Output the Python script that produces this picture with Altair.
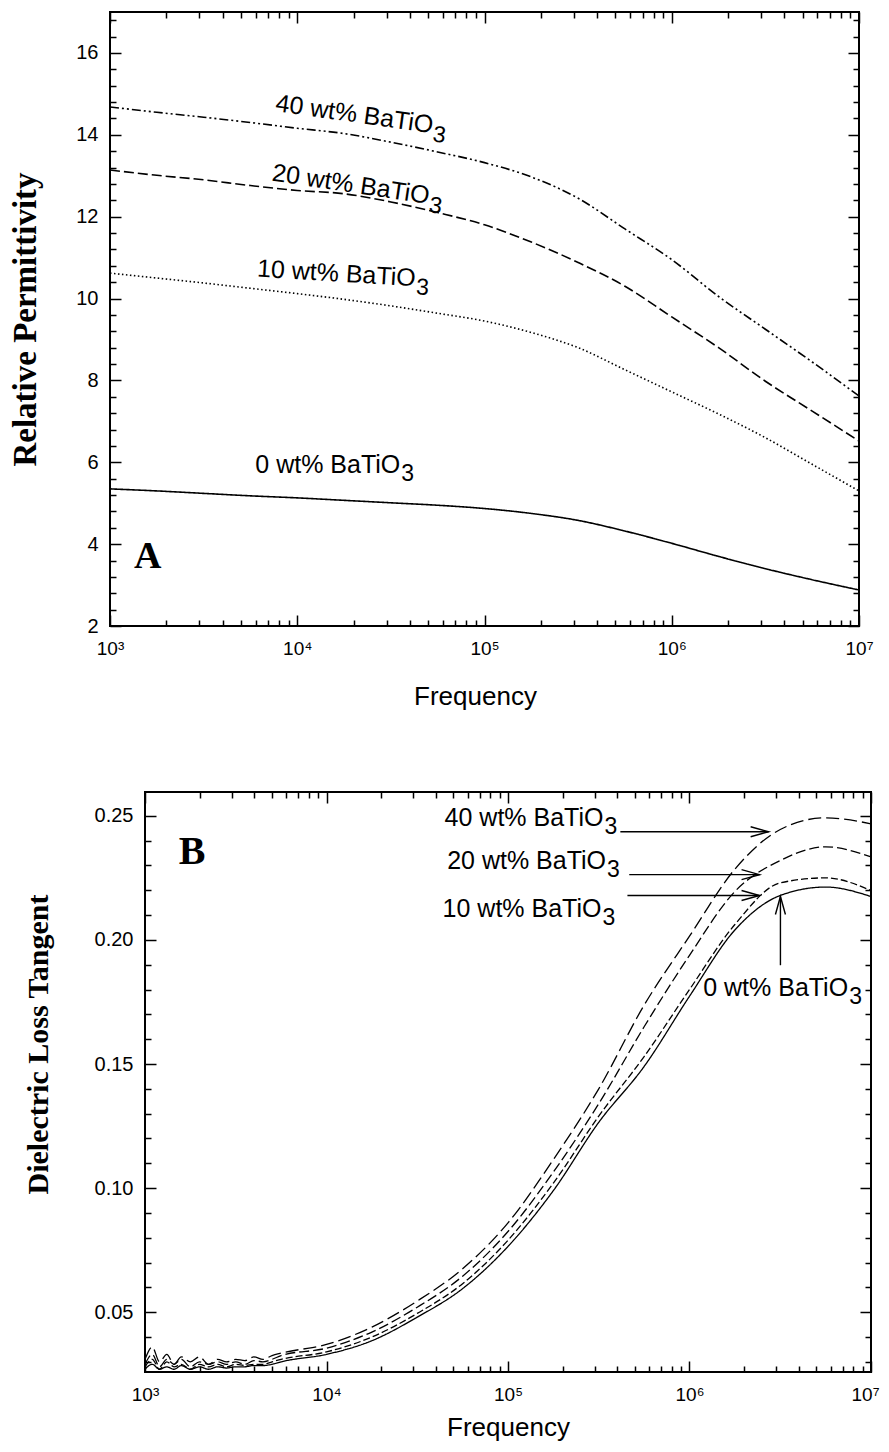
import altair as alt
import pandas as pd

FONT = "Liberation Sans"
SERIF = "Liberation Serif"

# ---------------- Panel A : relative permittivity ----------------
LOG_F = [3.0, 3.25, 3.5, 3.75, 4.0, 4.25, 4.5, 4.75, 5.0, 5.25, 5.5, 5.75, 6.0, 6.25, 6.5, 6.75, 7.0]
EPS_0 = [5.35, 5.30, 5.24, 5.18, 5.13, 5.07, 5.01, 4.95, 4.87, 4.75, 4.58, 4.32, 4.02, 3.70, 3.40, 3.13, 2.88]
EPS_10 = [10.62, 10.50, 10.38, 10.25, 10.12, 9.98, 9.82, 9.64, 9.45, 9.17, 8.80, 8.26, 7.72, 7.18, 6.60, 5.95, 5.30]
EPS_20 = [13.14, 13.01, 12.90, 12.76, 12.64, 12.56, 12.36, 12.10, 11.80, 11.38, 10.88, 10.30, 9.55, 8.80, 7.98, 7.25, 6.52]
EPS_40 = [14.68, 14.55, 14.43, 14.30, 14.16, 14.03, 13.82, 13.58, 13.32, 12.97, 12.45, 11.70, 10.95, 10.05, 9.25, 8.45, 7.62]

SERIES = ["0", "10", "20", "40"]

ANN_A_TEXT = ["40 wt% BaTiO", "20 wt% BaTiO", "10 wt% BaTiO", "0 wt% BaTiO"]
ANN_A_LOGF = [4.72, 4.70, 4.63, 4.55]
ANN_A_V = [14.04, 12.31, 10.30, 5.75]
ANN_A_ANGLE = [8, 8.5, 3.5, 0]
LETTER_A = ("A", 3.128, 3.42)

# ---------------- Panel B : dielectric loss tangent ----------------
LOG_FB = [3.0, 3.04, 3.08, 3.12, 3.16, 3.2, 3.25, 3.3, 3.35, 3.4, 3.45, 3.5, 3.55, 3.6, 3.65, 3.7,
          3.75, 4.0, 4.25, 4.5, 4.75, 5.0, 5.25, 5.5, 5.75, 6.0, 6.25, 6.5, 6.75, 7.0]
TAN_0 = [0.027, 0.029, 0.027, 0.028, 0.027, 0.0285, 0.027, 0.028, 0.027, 0.028, 0.0275, 0.028, 0.028, 0.0285, 0.0285, 0.029,
         0.0300, 0.0330, 0.0385, 0.0480, 0.0595, 0.0765, 0.0990, 0.1265, 0.1490, 0.1773, 0.2040, 0.2179, 0.2213, 0.2175]
TAN_10 = [0.028, 0.031, 0.027, 0.030, 0.028, 0.029, 0.027, 0.029, 0.028, 0.029, 0.028, 0.029, 0.0285, 0.029, 0.029, 0.030,
          0.0310, 0.0340, 0.0400, 0.0495, 0.0615, 0.0790, 0.1020, 0.1290, 0.1530, 0.1800, 0.2062, 0.2230, 0.2250, 0.2199]
TAN_20 = [0.029, 0.033, 0.028, 0.031, 0.029, 0.031, 0.028, 0.030, 0.029, 0.030, 0.029, 0.030, 0.029, 0.0305, 0.030, 0.031,
          0.0325, 0.0355, 0.0420, 0.0520, 0.0645, 0.0825, 0.1065, 0.1340, 0.1650, 0.1938, 0.2195, 0.2320, 0.2375, 0.2335]
TAN_40 = [0.031, 0.036, 0.030, 0.033, 0.029, 0.032, 0.030, 0.032, 0.029, 0.031, 0.030, 0.031, 0.0305, 0.032, 0.031, 0.0325,
          0.0335, 0.0370, 0.0440, 0.0545, 0.0675, 0.0860, 0.1115, 0.1400, 0.1737, 0.2015, 0.2285, 0.2445, 0.2492, 0.2468]

ANN_B_TEXT = ["40 wt% BaTiO", "20 wt% BaTiO", "10 wt% BaTiO", "0 wt% BaTiO"]
ANN_B_LOGF = [5.526, 5.54, 5.515, 6.874]
ANN_B_V = [0.246, 0.2287, 0.2094, 0.1773]
ARROW_H_LOG1 = [5.619, 5.668, 5.658]
ARROW_H_LOG2 = [6.436, 6.386, 6.386]
ARROW_H_V = [0.2436, 0.2263, 0.2179]
ARROW_V_LOG = [6.501]
ARROW_V_V1 = [0.1898]
ARROW_V_V2 = [0.2175]
LETTER_B = ("B", 3.186, 0.2307)

# ---------------- tick values ----------------
XTICKS = [m * 10 ** d for d in range(3, 7) for m in range(1, 10)] + [10 ** 7]
YTICKS_A = [round(2 + 0.4 * i, 1) for i in range(38)]
YTICKS_B = [round(0.03 + 0.01 * i, 2) for i in range(23)]

MAJ_X = "abs(log(datum.value)/LN10 - round(log(datum.value)/LN10)) < 0.001"
MAJ_YA = "abs(datum.value/2 - round(datum.value/2)) < 0.01"
MAJ_YB = "abs(datum.value/0.05 - round(datum.value/0.05)) < 0.01"
SUP = "['\u2070','\u00b9','\u00b2','\u00b3','\u2074','\u2075','\u2076','\u2077']"
XLABEL = f"({MAJ_X}) ? '10' + {SUP}[round(log(datum.value)/LN10)] : ''"


def tick_expr(test, major=11, minor=6):
    return alt.ExprRef(expr=f"({test}) ? {-major} : {-minor}")


def axis(orient, values, test, labels=True, label_expr=None, title=None,
         label_pad=23, title_pad=20, title_size=26, title_font=FONT, title_bold=False,
         label_size=20, **kw):
    args = dict(orient=orient, values=values, tickSize=tick_expr(test), tickColor="black",
                tickWidth=1.5, domain=False, grid=False, labels=labels,
                labelFont=FONT, labelFontSize=label_size, labelColor="black", labelPadding=label_pad,
                labelFlush=False, labelOverlap=False)
    if label_expr:
        args["labelExpr"] = label_expr
    if title:
        args.update(title=title, titleFont=title_font, titleFontSize=title_size,
                    titleFontWeight="bold" if title_bold else "normal", titleColor="black",
                    titlePadding=title_pad)
    else:
        args.update(title=None, minExtent=0, maxExtent=0)
    args.update(kw)
    return alt.Axis(**args)


xs = alt.Scale(type="log", domain=[1e3, 1e7], nice=False)
ysA = alt.Scale(domain=[2, 17], nice=False, zero=False)
ysB = alt.Scale(domain=[0.0259, 0.2596], nice=False, zero=False)


def long_df(logs, series_vals, key):
    rows = []
    for s, vals in zip(SERIES, series_vals):
        for l, v in zip(logs, vals):
            rows.append({"f": 10 ** l, "v": v, key: s})
    return pd.DataFrame(rows)


def annotations(texts, logs, vals, angles, ys):
    layers = []
    for t, l, v, a in zip(texts, logs, vals, angles):
        d = pd.DataFrame({"f": [10 ** l], "v": [v], "t": [t]})
        enc = dict(x=alt.X("f:Q", scale=xs, axis=None), y=alt.Y("v:Q", scale=ys, axis=None))
        main = alt.Chart(d).mark_text(align="right", baseline="alphabetic", angle=a, font=FONT,
                                      fontSize=25, color="black").encode(text="t:N", **enc)
        sub = alt.Chart(d).mark_text(align="left", baseline="alphabetic", angle=a, dx=1, dy=8,
                                     font=FONT, fontSize=23, color="black", text="3").encode(**enc)
        layers += [main, sub]
    return layers


# ---------------- Panel A chart ----------------
dfA = long_df(LOG_F, [EPS_0, EPS_10, EPS_20, EPS_40], "sa")
linesA = alt.Chart(dfA).mark_line(color="black", strokeWidth=1.6, interpolate="monotone").encode(
    x=alt.X("f:Q", scale=xs,
            axis=axis("bottom", XTICKS, MAJ_X, label_expr=XLABEL, title="Frequency",
                      label_pad=24, title_pad=20, label_size=19, titleX=365)),
    y=alt.Y("v:Q", scale=ysA,
            axis=axis("left", YTICKS_A, MAJ_YA,
                      label_expr=f"({MAJ_YA}) ? format(datum.value, 'd') : ''",
                      title="Relative Permittivity", title_font=SERIF, title_size=33,
                      title_bold=True, label_pad=23, title_pad=33)),
    strokeDash=alt.StrokeDash("sa:N", scale=alt.Scale(domain=SERIES,
                              range=[[1, 0], [1.5, 2.5], [10, 4], [9, 3, 2, 3, 2, 3]]), legend=None),
)
letterA = alt.Chart(pd.DataFrame({"f": [10 ** LETTER_A[1]], "v": [LETTER_A[2]], "t": [LETTER_A[0]]})).mark_text(
    font=SERIF, fontWeight="bold", fontSize=38, align="left", baseline="alphabetic", color="black"
).encode(
    x=alt.X("f:Q", scale=xs, axis=axis("top", XTICKS, MAJ_X, labels=False)),
    y=alt.Y("v:Q", scale=ysA, axis=axis("right", YTICKS_A, MAJ_YA, labels=False)),
    text="t:N",
)
panelA = alt.layer(linesA, letterA, *annotations(ANN_A_TEXT, ANN_A_LOGF, ANN_A_V, ANN_A_ANGLE, ysA)).resolve_axis(
    x="independent", y="independent").properties(width=749, height=614)

# ---------------- Panel B chart ----------------
dfB = long_df(LOG_FB, [TAN_0, TAN_10, TAN_20, TAN_40], "sb")
linesB = alt.Chart(dfB).mark_line(color="black", strokeWidth=1.3, interpolate="monotone").encode(
    x=alt.X("f:Q", scale=xs,
            axis=axis("bottom", XTICKS, MAJ_X, label_expr=XLABEL, title="Frequency",
                      label_pad=24, title_pad=5, label_size=19,
                      labelOffset=alt.ExprRef(expr="datum.value > 9e6 ? -6 : 0"))),
    y=alt.Y("v:Q", scale=ysB,
            axis=axis("left", YTICKS_B, MAJ_YB,
                      label_expr=f"({MAJ_YB}) ? format(datum.value, '.2f') : ''",
                      title="Dielectric Loss Tangent", title_font=SERIF, title_size=30,
                      title_bold=True, label_pad=23, title_pad=41, titleY=252)),
    strokeDash=alt.StrokeDash("sb:N", scale=alt.Scale(domain=SERIES,
                              range=[[1, 0], [7, 3], [10, 4], [13, 5]]), legend=None),
)
letterB = alt.Chart(pd.DataFrame({"f": [10 ** LETTER_B[1]], "v": [LETTER_B[2]], "t": [LETTER_B[0]]})).mark_text(
    font=SERIF, fontWeight="bold", fontSize=40, align="left", baseline="alphabetic", color="black"
).encode(
    x=alt.X("f:Q", scale=xs, axis=axis("top", XTICKS, MAJ_X, labels=False)),
    y=alt.Y("v:Q", scale=ysB, axis=axis("right", YTICKS_B, MAJ_YB, labels=False)),
    text="t:N",
)
dfArrH = pd.DataFrame({"f1": [10 ** l for l in ARROW_H_LOG1], "f2": [10 ** l for l in ARROW_H_LOG2], "v": ARROW_H_V})
dfArrV = pd.DataFrame({"f": [10 ** l for l in ARROW_V_LOG], "v1": ARROW_V_V1, "v2": ARROW_V_V2})
arrH = alt.Chart(dfArrH).mark_rule(color="black", strokeWidth=1.4).encode(
    x=alt.X("f1:Q", scale=xs, axis=None), x2="f2:Q", y=alt.Y("v:Q", scale=ysB, axis=None))
headH = alt.Chart(dfArrH).mark_point(shape="M-1.8,-0.5L0,0L-1.8,0.5", size=400, filled=False,
                                     color="black", strokeWidth=1.4, opacity=1).encode(
    x=alt.X("f2:Q", scale=xs, axis=None), y=alt.Y("v:Q", scale=ysB, axis=None))
arrV = alt.Chart(dfArrV).mark_rule(color="black", strokeWidth=1.4).encode(
    x=alt.X("f:Q", scale=xs, axis=None), y=alt.Y("v1:Q", scale=ysB, axis=None), y2="v2:Q")
headV = alt.Chart(dfArrV).mark_point(shape="M-0.5,1.8L0,0L0.5,1.8", size=400, filled=False,
                                     color="black", strokeWidth=1.4, opacity=1).encode(
    x=alt.X("f:Q", scale=xs, axis=None), y=alt.Y("v2:Q", scale=ysB, axis=None))

panelB = alt.layer(linesB, letterB, arrH, headH, arrV, headV,
                   *annotations(ANN_B_TEXT, ANN_B_LOGF, ANN_B_V, [0, 0, 0, 0], ysB)).resolve_axis(
    x="independent", y="independent").properties(width=726, height=580)

# invisible spacer shifting panel B to the right of panel A's plot edge
spacer = alt.Chart(pd.DataFrame({"a": [0]})).mark_point(opacity=0).properties(
    width=35, height=10, view=alt.ViewBackground(strokeOpacity=0))
rowB = alt.hconcat(spacer, panelB, spacing=0, bounds="flush")

chart = alt.concat(panelA, rowB, columns=1, spacing=80, align="none").properties(
    padding={"left": 0, "top": 1, "right": 0, "bottom": 0}, background="white"
).resolve_scale(strokeDash="independent").configure_view(stroke="black", strokeWidth=2)

chart.save("out.html", embed_options={"renderer": "svg", "actions": False})
